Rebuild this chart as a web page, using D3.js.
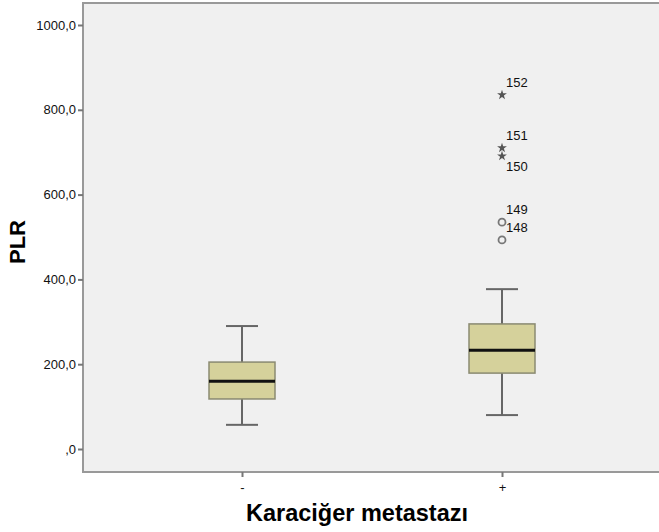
<!DOCTYPE html>
<html>
<head>
<meta charset="utf-8">
<script src="https://cdn.jsdelivr.net/npm/d3@7"></script>
<style>
  body { margin: 0; background: #fff; }
  text { font-family: "Liberation Sans", Arial, sans-serif; }
</style>
</head>
<body>
<svg id="chart" width="659" height="532"></svg>
<script>
// groups and five-number summaries
const groups = ['-', '+'];
const whiskerLow = [57, 80];
const q1 = [118, 179];
const median = [160, 233];
const q3 = [205, 295];
const whiskerHigh = [290, 377];

// outliers (all in the "+" group)
const outlierGroup = ['+', '+', '+', '+', '+'];
const outlierValue = [493, 535, 691, 710, 835];
const outlierId = ['148', '149', '150', '151', '152'];
const outlierExtreme = [false, false, true, true, true];

const yTicks = [0, 200, 400, 600, 800, 1000];

const svg = d3.select('#chart');
const plotLeft = 83, plotTop = 3, plotRight = 664, plotBottom = 472;

const y = d3.scaleLinear().domain([0, 1000]).range([449, 25]);
const x = d3.scalePoint().domain(groups).range([242, 502]);

// plot background
svg.append('rect')
    .attr('x', plotLeft).attr('y', plotTop)
    .attr('width', plotRight - plotLeft).attr('height', plotBottom - plotTop)
    .attr('fill', '#f0f0f0')
    .attr('stroke', '#999').attr('stroke-width', 2);

const fmt = d => d === 0 ? ',0' : d.toFixed(1).replace('.', ',');

// y axis
const yAxis = svg.append('g')
    .attr('transform', `translate(${plotLeft},0)`)
    .call(d3.axisLeft(y).tickValues(yTicks).tickFormat(fmt).tickSize(5).tickPadding(2));
yAxis.select('.domain').remove();
yAxis.selectAll('line').attr('stroke', '#777').attr('stroke-width', 2);
yAxis.selectAll('text').attr('font-size', 13).attr('fill', '#111')
    .style('font-family', '"Liberation Sans", Arial, sans-serif');

// x axis
const xAxis = svg.append('g')
    .attr('transform', `translate(0,${plotBottom})`)
    .call(d3.axisBottom(x).tickSize(5).tickPadding(6));
xAxis.select('.domain').remove();
xAxis.selectAll('line').attr('stroke', '#777').attr('stroke-width', 2);
xAxis.selectAll('text').attr('font-size', 13).attr('fill', '#111')
    .style('font-family', '"Liberation Sans", Arial, sans-serif');

// boxes
const boxW = 66, capW = 32;
const boxes = groups.map((g, i) => ({
  g, lo: whiskerLow[i], q1: q1[i], med: median[i], q3: q3[i], hi: whiskerHigh[i]
}));

const bx = svg.append('g').selectAll('g').data(boxes).enter().append('g');

bx.append('line')
    .attr('x1', d => x(d.g)).attr('x2', d => x(d.g))
    .attr('y1', d => y(d.hi)).attr('y2', d => y(d.lo))
    .attr('stroke', '#666').attr('stroke-width', 2);
bx.append('line')
    .attr('x1', d => x(d.g) - capW / 2).attr('x2', d => x(d.g) + capW / 2)
    .attr('y1', d => y(d.hi)).attr('y2', d => y(d.hi))
    .attr('stroke', '#666').attr('stroke-width', 2);
bx.append('line')
    .attr('x1', d => x(d.g) - capW / 2).attr('x2', d => x(d.g) + capW / 2)
    .attr('y1', d => y(d.lo)).attr('y2', d => y(d.lo))
    .attr('stroke', '#666').attr('stroke-width', 2);
bx.append('rect')
    .attr('x', d => x(d.g) - boxW / 2).attr('width', boxW)
    .attr('y', d => y(d.q3)).attr('height', d => y(d.q1) - y(d.q3))
    .attr('fill', '#d5d19b').attr('stroke', '#8a8a72').attr('stroke-width', 1.5);
bx.append('line')
    .attr('x1', d => x(d.g) - boxW / 2).attr('x2', d => x(d.g) + boxW / 2)
    .attr('y1', d => y(d.med)).attr('y2', d => y(d.med))
    .attr('stroke', '#111').attr('stroke-width', 3);

// outliers
const outliers = outlierValue.map((v, i) => ({
  g: outlierGroup[i], v, id: outlierId[i], extreme: outlierExtreme[i]
}));

const star = d3.symbol().type(d3.symbolStar).size(30);
svg.append('g').selectAll('path').data(outliers.filter(d => d.extreme)).enter()
  .append('path')
    .attr('d', star)
    .attr('transform', d => `translate(${x(d.g)},${y(d.v)})`)
    .attr('fill', '#555');
svg.append('g').selectAll('circle').data(outliers.filter(d => !d.extreme)).enter()
  .append('circle')
    .attr('cx', d => x(d.g)).attr('cy', d => y(d.v))
    .attr('r', 3.5)
    .attr('fill', 'none').attr('stroke', '#777').attr('stroke-width', 1.8);

// labels: above the marker, below if it would collide with the previous one
const sorted = outliers.slice().sort((a, b) => b.v - a.v);
let lastY = -100;
sorted.forEach(d => {
  let ly = y(d.v) - 8;
  if (ly - lastY < 14) ly = y(d.v) + 15;
  d.ly = ly;
  lastY = ly;
});
svg.append('g').selectAll('text').data(sorted).enter()
  .append('text')
    .attr('x', d => x(d.g) + 4)
    .attr('y', d => d.ly)
    .attr('font-size', 13)
    .attr('fill', '#111')
    .text(d => d.id);

// axis titles
svg.append('text')
    .attr('transform', 'translate(25,242) rotate(-90)')
    .attr('text-anchor', 'middle')
    .attr('font-size', 22).attr('font-weight', 'bold')
    .text('PLR');
svg.append('text')
    .attr('x', 357).attr('y', 521)
    .attr('text-anchor', 'middle')
    .attr('font-size', 23.5).attr('font-weight', 'bold')
    .text('Karaciğer metastazı');
</script>
</body>
</html>
